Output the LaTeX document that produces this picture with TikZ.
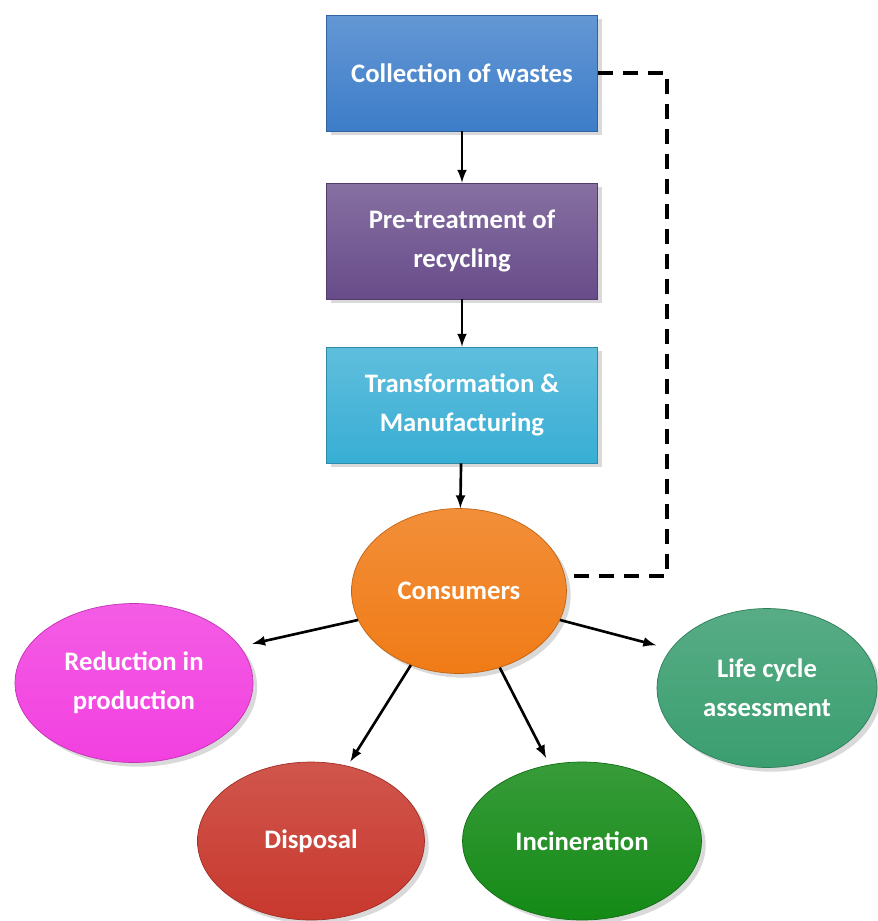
\documentclass[tikz,border=0pt]{standalone}
\usepackage{fontspec}
\setmainfont{Carlito}
\usepackage{xcolor}
\usetikzlibrary{shapes.geometric,shadows}
\definecolor{wasteblue}{RGB}{61,125,201}
\definecolor{treatpurple}{RGB}{104,76,138}
\definecolor{makecyan}{RGB}{56,174,212}
\definecolor{userorange}{RGB}{240,123,22}
\definecolor{cutmagenta}{RGB}{242,64,224}
\definecolor{lcagreen}{RGB}{58,158,112}
\definecolor{dumpred}{RGB}{200,56,45}
\definecolor{burngreen}{RGB}{20,138,22}

\begin{document}
\begin{tikzpicture}[x=0.02cm, y=-0.02cm,
  stepbox/.style={rectangle, draw=#1!80!black, top color=#1!80!white, bottom color=#1,
    minimum width=5.42cm, minimum height=2.32cm, align=center, text=white,
    font=\bfseries\fontsize{15.2}{22}\selectfont, drop shadow={opacity=0.3}},
  fate/.style={ellipse, draw=#1!80!black, top color=#1!85!white, bottom color=#1,
    align=center, text=white, inner sep=0pt,
    font=\bfseries\fontsize{15.2}{22}\selectfont, drop shadow={opacity=0.3}},
  flow/.style={-latex, line width=1.5pt},
  back/.style={line width=2pt, dash pattern=on 0.3cm off 0.2cm}]
  \useasboundingbox (0,0) rectangle (877,921);

  \node[stepbox=wasteblue] (collect) at (462,73) {Collection of wastes};
  \node[stepbox=treatpurple] (pretreat) at (462,241) {Pre-treatment of\\recycling};
  \node[stepbox=makecyan] (transform) at (462,405) {Transformation \&\\Manufacturing};
  \node[fate=userorange, minimum width=4.3cm, minimum height=3.3cm] (consumers) at (459,591) {Consumers};

  \node[fate=cutmagenta, minimum width=4.76cm, minimum height=3.18cm] (reduce) at (134,683) {Reduction in\\production};
  \node[fate=lcagreen, minimum width=4.4cm, minimum height=3.18cm] (lca) at (767,688) {Life cycle\\assessment};
  \node[fate=dumpred, minimum width=4.54cm, minimum height=3.16cm] (disposal) at (311,841) {Disposal};
  \node[fate=burngreen, minimum width=4.78cm, minimum height=3.16cm] (incin) at (582,841) {Incineration};

  \draw[flow] (collect) -- (pretreat);
  \draw[flow] (pretreat) -- (transform);
  \draw[flow] (transform) -- (consumers);
  \draw[back] (collect.east) -- ++(69,0) |- (consumers.8);

  \draw[flow, shorten >=0.25cm] (consumers.196) -- (reduce.19);
  \draw[flow, shorten >=0.1cm] (consumers.237) -- (disposal.64);
  \draw[flow, shorten >=0.15cm] (consumers.298) -- (incin.113);
  \draw[flow, shorten >=0.3cm] (consumers.344) -- (lca.158);
\end{tikzpicture}
\end{document}
